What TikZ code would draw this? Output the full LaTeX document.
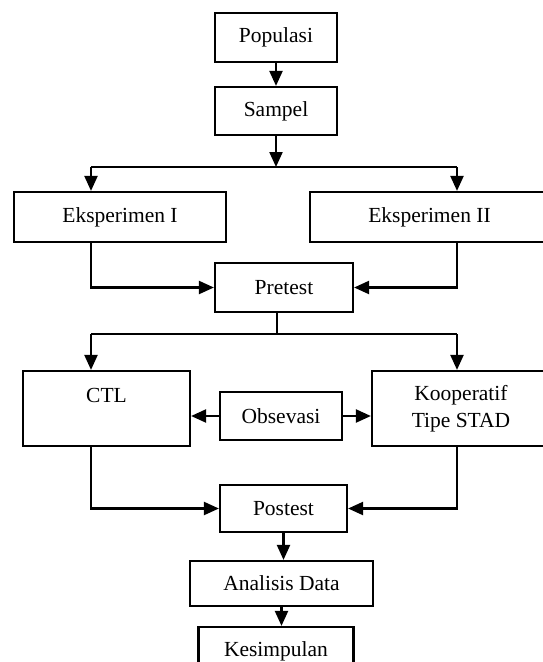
\documentclass[tikz,border=0pt]{standalone}
\usepackage{fontspec}
\setmainfont{Liberation Serif}
\usetikzlibrary{arrows.meta}

\begin{document}
\begin{tikzpicture}[x=1pt,y=-1pt,line width=2.2pt,
every node/.style={draw,align=center,inner sep=0pt,
  font=\fontsize{21.5}{27}\selectfont},
arr/.style={-{Triangle[length=15pt,width=13pt]}}]
\useasboundingbox (0,0) rectangle (543,662);
% boxes
\node[minimum width=122pt,minimum height=49pt] (pop) at (276,37.5) {Populasi};
\node[minimum width=122pt,minimum height=48pt] (samp) at (276,111) {Sampel};
\node[minimum width=212pt,minimum height=50pt] (eks1) at (120,217) {Eksperimen I};
\node[minimum width=239pt,minimum height=50pt] (eks2) at (429.5,217) {Eksperimen II};
\node[minimum width=138pt,minimum height=49pt] (pre) at (284,287.5) {Pretest};
\node[minimum width=167pt,minimum height=75pt] (ctl) at (106.5,408.5) {CTL\\~};
\node[minimum width=178pt,minimum height=75pt] (koop) at (461,408.5) {Kooperatif\\Tipe STAD};
\node[minimum width=122pt,minimum height=48pt] (obs) at (281,416) {Obsevasi};
\node[minimum width=127pt,minimum height=47pt] (post) at (283.5,508.5) {Postest};
\node[minimum width=183pt,minimum height=45pt] (ana) at (281.5,583.5) {Analisis Data};
\node[minimum width=155pt,minimum height=48pt] (kes) at (276,651) {Kesimpulan};
% lanes
\coordinate (lane1) at (91,0);
\coordinate (lane2) at (457,0);
\coordinate (split1) at (276,167);
\coordinate (split2) at (277,334);
% connectors
\draw[arr] (pop) -- (samp);
\draw[arr] (samp) -- (split1);
\draw (lane1 |- split1) -- (lane2 |- split1);
\draw[arr] (lane1 |- split1) -- (lane1 |- eks1.north);
\draw[arr] (lane2 |- split1) -- (lane2 |- eks2.north);
\draw[arr] (lane1 |- eks1.south) |- (pre.west);
\draw[arr] (lane2 |- eks2.south) |- (pre.east);
\draw (split2 |- pre.south) -- (split2);
\draw (lane1 |- split2) -- (lane2 |- split2);
\draw[arr] (lane1 |- split2) -- (lane1 |- ctl.north);
\draw[arr] (lane2 |- split2) -- (lane2 |- koop.north);
\draw[arr] (obs.west) -- (obs.west -| ctl.east);
\draw[arr] (obs.east) -- (obs.east -| koop.west);
\draw[arr] (lane1 |- ctl.south) |- (post.west);
\draw[arr] (lane2 |- koop.south) |- (post.east);
\draw[arr] (post.south) -- (post.south |- ana.north);
\draw[arr] (ana.south) -- (ana.south |- kes.north);
\end{tikzpicture}
\end{document}
